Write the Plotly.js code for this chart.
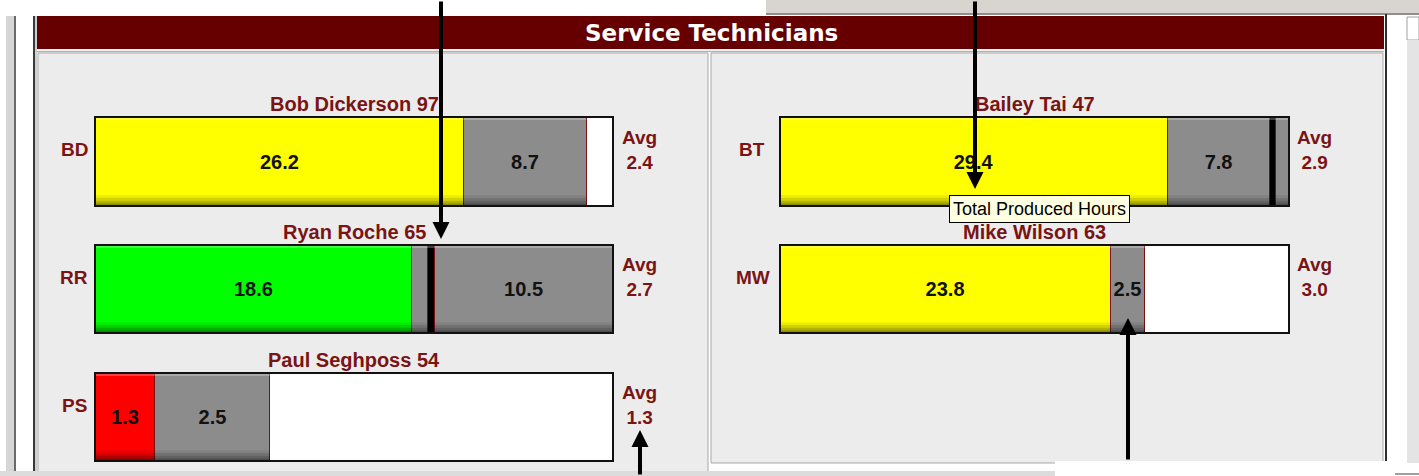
<!DOCTYPE html>
<html>
<head>
<meta charset="utf-8">
<script src="https://cdn.plot.ly/plotly-3.0.1.min.js"></script>
<style>
  html, body { margin: 0; padding: 0; background: #ffffff; }
  #chart { width: 1419px; height: 476px; }
</style>
</head>
<body>
<div id="chart"></div>
<script>
// ---------------- DATA ----------------
const headerTitle = "Service Technicians";
const techNames = ["Bob Dickerson", "Ryan Roche", "Paul Seghposs", "Bailey Tai", "Mike Wilson"];
const techCodes = ["BD", "RR", "PS", "BT", "MW"];
const techScores = [97, 65, 54, 47, 63];
const avgValues = [2.4, 2.7, 1.3, 2.9, 3.0];
const producedHours = [26.2, 18.6, 1.3, 29.4, 23.8];
const preGrayHours = [0, 0.9, 0, 0, 0];
const preMarkerHours = [0, 0.4, 0, 0, 0];
const grayHours = [8.7, 10.5, 2.5, 7.8, 2.5];
const postMarkerHours = [0, 0, 0, 0.45, 0];
const postGrayHours = [0, 0, 0, 1.0, 0];
const remainingHours = [1.9, 0, 7.45, 0, 10.4];
const tooltipText = "Total Produced Hours";

// ---------------- STYLE / POSITIONS ----------------
const W = 1419, H = 476;
const px = x => x / W;
const py = y => 1 - y / H;
const producedColors = ["#FFFF00", "#00FF00", "#FF0000", "#FFFF00", "#FFFF00"];
const GRAY = "#8C8C8C", BLACK = "#000000", WHITE = "#FFFFFF";
const TEXT_RED = "#7A1414";
const barLeft = [95, 95, 95, 780, 780];
const barRight = [613, 613, 613, 1289, 1289];
const barTop = [117, 245, 373, 117, 245];
const barBottom = [206, 333, 461, 206, 333];
const codeX = [74, 74, 74, 752, 753];
const avgX = [639, 639, 639, 1314, 1314];

const segDefs = [
  { vals: producedHours, color: null, label: true },
  { vals: preGrayHours, color: GRAY, label: false },
  { vals: preMarkerHours, color: BLACK, label: false },
  { vals: grayHours, color: GRAY, label: true },
  { vals: postMarkerHours, color: BLACK, label: false },
  { vals: postGrayHours, color: GRAY, label: false },
  { vals: remainingHours, color: WHITE, label: false }
];

const traces = [];
const layout = {
  width: W, height: H, autosize: false,
  margin: { l: 0, r: 0, t: 0, b: 0, pad: 0 },
  paper_bgcolor: "#FFFFFF",
  plot_bgcolor: "rgba(0,0,0,0)",
  barmode: "stack",
  bargap: 0,
  showlegend: false,
  shapes: [],
  annotations: []
};

function rect(x0, y0, x1, y1, fill, line, lw, layer) {
  layout.shapes.push({
    type: "rect", xref: "paper", yref: "paper",
    x0: px(x0), x1: px(x1), y0: py(y1), y1: py(y0),
    fillcolor: fill, line: { color: line || fill, width: lw === undefined ? 0 : lw },
    layer: layer || "below"
  });
}

// window chrome
rect(766, 0, 1419, 13, "#D8D5D0");
rect(766, 13, 1419, 15, "#8E8E8E");
rect(6, 16, 14, 476, "#D6D6D6");
rect(14, 16, 16, 476, "#6A6A6A");
rect(33, 16, 35, 476, "#3A3A3A");
rect(35, 16, 37, 476, "#CFCFCF");
rect(37, 16, 1384, 49, "#660000");
rect(37, 49, 1384, 53, "#F2F2F2");
rect(37, 51, 1384, 52, "#B0B0B0");
rect(38, 53, 708, 473, "#ECECEC", "#A8A8A8", 1);
rect(711, 53, 1383, 463, "#ECECEC", "#A8A8A8", 1);
rect(1385, 14, 1387, 463, "#2E2E2E");
rect(1407, 17, 1419, 40, "#FFFFFF", "#A0A0A0", 1);
rect(1407, 40, 1419, 463, "#E4E4E4");
rect(0, 471, 1055, 476, "#DCDCDC");
rect(1055, 461, 1395, 476, "#FFFFFF");
rect(1395, 473, 1419, 475, "#A0A0A0");

// header title
layout.annotations.push({
  xref: "paper", yref: "paper", x: px(711), y: py(33),
  xanchor: "center", yanchor: "middle", showarrow: false,
  text: headerTitle,
  font: { family: "DejaVu Sans, Liberation Sans, Arial", size: 23, color: "#FFFFFF", weight: 700 }
});

for (let i = 0; i < techNames.length; i++) {
  const s = i === 0 ? "" : String(i + 1);
  let total = 0, nonWhite = 0;
  segDefs.forEach(sd => { total += sd.vals[i]; if (sd.color !== WHITE) nonWhite += sd.vals[i]; });

  segDefs.forEach(sd => {
    const v = sd.vals[i];
    traces.push({
      type: "bar", orientation: "h",
      x: [v], y: [techCodes[i]],
      xaxis: "x" + s, yaxis: "y" + s,
      marker: { color: sd.color || producedColors[i], line: { color: "#7A1010", width: 1 } },
      text: [sd.label ? v.toFixed(1) : ""],
      textposition: "inside", insidetextanchor: "middle",
      constraintext: "none",
      textfont: { family: "Liberation Sans, Arial", size: 20, color: "#111111", weight: 700 },
      hoverinfo: "skip", showlegend: false, cliponaxis: false
    });
  });

  layout["xaxis" + s] = {
    domain: [px(barLeft[i]), px(barRight[i])], range: [0, total],
    visible: false, fixedrange: true, anchor: "y" + s
  };
  layout["yaxis" + s] = {
    domain: [py(barBottom[i]), py(barTop[i])], range: [-0.5, 0.5],
    type: "category", visible: false, fixedrange: true, anchor: "x" + s
  };

  // bottom shading of filled part
  const bands = [[0, 0.03, 0.45], [0.03, 0.06, 0.3], [0.06, 0.09, 0.18], [0.09, 0.12, 0.08]];
  bands.forEach(b => layout.shapes.push({
    type: "rect", xref: "x" + s, yref: "y" + s + " domain",
    x0: 0, x1: nonWhite, y0: b[0], y1: b[1],
    fillcolor: "rgba(0,0,0," + b[2] + ")", line: { width: 0 }, layer: "above"
  }));
  layout.shapes.push({
    type: "rect", xref: "x" + s, yref: "y" + s + " domain",
    x0: 0, x1: nonWhite, y0: 0.965, y1: 1,
    fillcolor: "rgba(255,255,255,0.25)", line: { width: 0 }, layer: "above"
  });
  // outer border
  layout.shapes.push({
    type: "rect", xref: "x" + s + " domain", yref: "y" + s + " domain",
    x0: 0, x1: 1, y0: 0, y1: 1,
    fillcolor: "rgba(0,0,0,0)", line: { color: "#111111", width: 2 }, layer: "above"
  });

  const cx = (barLeft[i] + barRight[i]) / 2;
  const cy = (barTop[i] + barBottom[i]) / 2;
  const labFont = { family: "Liberation Sans, Arial", size: 19, color: TEXT_RED, weight: 700 };
  layout.annotations.push({
    xref: "paper", yref: "paper", x: px(cx), y: py(barTop[i] - 13),
    xanchor: "center", yanchor: "middle", showarrow: false,
    text: techNames[i] + " " + techScores[i],
    font: { family: "Liberation Sans, Arial", size: 20, color: TEXT_RED, weight: 700 }
  });
  layout.annotations.push({
    xref: "paper", yref: "paper", x: px(codeX[i]), y: py(cy - 12),
    xanchor: "center", yanchor: "middle", showarrow: false,
    text: techCodes[i], font: labFont
  });
  layout.annotations.push({
    xref: "paper", yref: "paper", x: px(avgX[i]), y: py(cy - 12),
    xanchor: "center", yanchor: "middle", showarrow: false, align: "center",
    text: "Avg<br>" + avgValues[i].toFixed(1), font: labFont
  });
}

// tooltip
layout.annotations.push({
  xref: "paper", yref: "paper", x: px(1039.5), y: py(208.5),
  xanchor: "center", yanchor: "middle", showarrow: false,
  text: tooltipText, bgcolor: "#FFFFE1", bordercolor: "#000000", borderwidth: 1, borderpad: 3,
  font: { family: "Liberation Sans, Arial", size: 18, color: "#000000" }
});

// pointer arrows
function arrow(x, tipY, tailY) {
  layout.annotations.push({
    xref: "paper", yref: "paper", x: px(x), y: py(tipY),
    axref: "pixel", ayref: "pixel", ax: 0, ay: tailY - tipY,
    text: "", showarrow: true, arrowhead: 2, arrowsize: 0.85, arrowwidth: 4,
    arrowcolor: "#000000", standoff: 0
  });
}
arrow(441, 239, -2);
arrow(975, 189, -2);
arrow(640, 430, 478);
arrow(1128, 318, 461);

Plotly.newPlot("chart", traces, layout, { displayModeBar: false, staticPlot: true });
</script>
</body>
</html>
